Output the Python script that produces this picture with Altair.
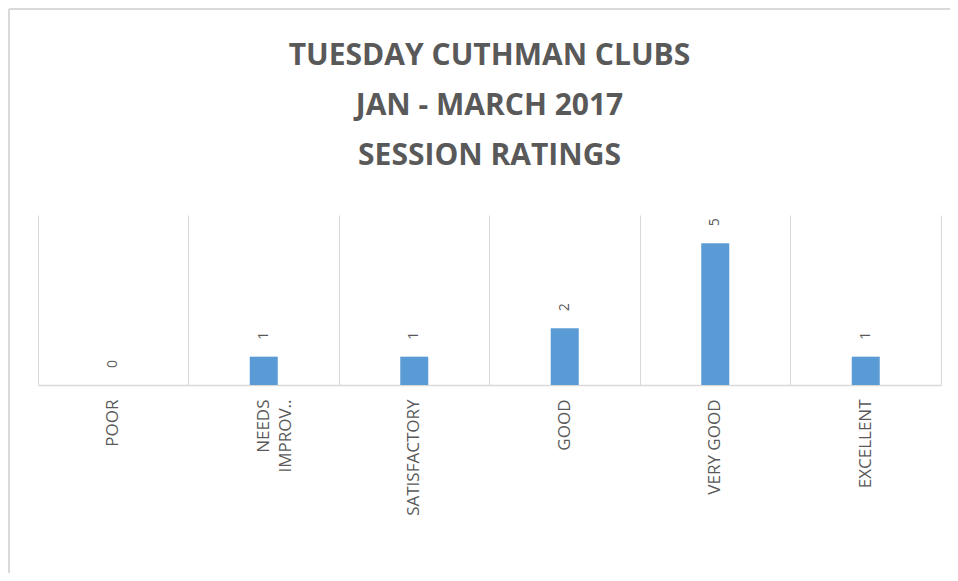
import altair as alt
import pandas as pd

categories = ["POOR", "NEEDS IMPROV..", "SATISFACTORY", "GOOD", "VERY GOOD", "EXCELLENT"]
ratings = [0, 1, 1, 2, 5, 1]
title_lines = ["TUESDAY CUTHMAN CLUBS", "JAN - MARCH 2017", "SESSION RATINGS"]

df = pd.DataFrame({"category": categories, "count": ratings})
one = pd.DataFrame({"k": [0]})

GRAY = "#d9d9d9"
TEXT = "#595959"
FONT = "Open Sans"

x = alt.X(
    "category:N",
    sort=categories,
    scale=alt.Scale(paddingInner=0, paddingOuter=0),
    axis=alt.Axis(
        title=None,
        labelAngle=-90,
        labelFont=FONT,
        labelFontSize=17,
        labelColor=TEXT,
        labelPadding=14,
        ticks=False,
        domainColor=GRAY,
        domainWidth=1.5,
        grid=True,
        gridColor=GRAY,
        gridWidth=1,
        bandPosition=0,
        labelExpr="datum.value == 'NEEDS IMPROV..' ? ['NEEDS', 'IMPROV..'] : datum.value",
        labelLineHeight=22,
    ),
)
y = alt.Y(
    "count:Q",
    scale=alt.Scale(domain=[0, 6]),
    axis=alt.Axis(orient="right", labels=False, ticks=False, grid=False, title=None,
                  domainColor=GRAY, domainWidth=1),
)

base = alt.Chart(df).encode(x=x, y=y)
bars = base.mark_bar(size=28, color="#5B9BD5")
labels = base.mark_text(angle=270, align="left", baseline="middle", dx=17,
                        font=FONT, fontSize=14, color=TEXT).encode(text="count:Q")

border_top = alt.Chart(one).mark_rule(color=GRAY, strokeWidth=2).encode(
    x=alt.value(-29), x2=alt.value(930), y=alt.value(-206))
border_left = alt.Chart(one).mark_rule(color=GRAY, strokeWidth=2).encode(
    x=alt.value(-29), y=alt.value(-206), y2=alt.value(400))

chart = alt.layer(bars, labels, border_top, border_left).properties(
    width=903,
    height=170,
    padding={"left": 30, "top": 207, "right": 9, "bottom": 188},
    autosize=alt.AutoSizeParams(type="none"),
    title=alt.TitleParams(
        text=title_lines,
        font=FONT,
        fontSize=30,
        fontWeight="bold",
        color=TEXT,
        lineHeight=50,
        anchor="middle",
        frame="group",
        offset=-163,
    ),
).configure_view(stroke=None)

chart.save("out.html", embed_options={"renderer": "svg", "actions": False})
